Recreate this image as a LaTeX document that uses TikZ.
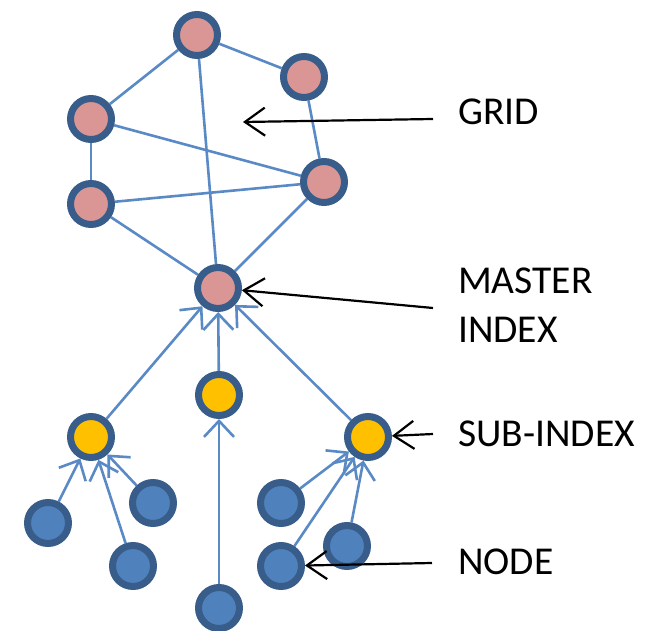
\documentclass[tikz,border=0pt]{standalone}
\usepackage{fontspec}
\setmainfont{Carlito}
\usetikzlibrary{arrows.meta,backgrounds}
\definecolor{ringblue}{HTML}{385D8A}
\definecolor{lineblue}{HTML}{5A8AC6}
\definecolor{pinkfill}{HTML}{D99694}
\definecolor{yellowfill}{HTML}{FFC000}
\definecolor{bluefill}{HTML}{4F81BD}
\begin{document}
\begin{tikzpicture}[x=1pt,y=-1pt,
  vtx/.style={circle,draw=ringblue,line width=7pt,minimum size=41pt,inner sep=0pt},
  gridv/.style={vtx,fill=pinkfill},
  subv/.style={vtx,fill=yellowfill},
  leafv/.style={vtx,fill=bluefill},
  link/.style={draw=lineblue,line width=2.6pt},
  feed/.style={link,-{Straight Barb[length=16pt,width=30pt]}},
  annot/.style={draw=black,line width=2.2pt,-{Straight Barb[length=20pt,width=28pt]}},
  lbl/.style={anchor=base west,inner sep=0pt,font=\fontsize{39.5}{46}\selectfont}]
\useasboundingbox (0,0) rectangle (648,631);

% grid nodes
\node[gridv] (gtop) at (197,35) {};
\node[gridv] (gtr)  at (304,77) {};
\node[gridv] (glu)  at (91,119) {};
\node[gridv] (gll)  at (91,204) {};
\node[gridv] (gr)   at (324,182) {};
\node[gridv] (master) at (218,288) {};

% sub-index nodes
\node[subv] (sl) at (91,437) {};
\node[subv] (sm) at (219,395) {};
\node[subv] (sr) at (368,437) {};

% leaf nodes
\node[leafv] (l1) at (48,523) {};
\node[leafv] (l2) at (153,503) {};
\node[leafv] (l3) at (133,566) {};
\node[leafv] (l4) at (219,608) {};
\node[leafv] (l5) at (281,503) {};
\node[leafv] (l6) at (281,566) {};
\node[leafv] (l7) at (347,546) {};

\begin{scope}[on background layer]
  \draw[link] (gtop) -- (glu);
  \draw[link] (gtop) -- (gtr);
  \draw[link] (gtop) -- (master);
  \draw[link] (gtr) -- (gr);
  \draw[link] (glu) -- (gr);
  \draw[link] (glu) -- (gll);
  \draw[link] (gll) -- (gr);
  \draw[link] (gll) -- (master);
  \draw[link] (gr) -- (master);
  \draw[feed] (sl) -- (master);
  \draw[feed] (sm) -- (master);
  \draw[feed] (sr) -- (master);
  \draw[feed] (l1) -- (sl);
  \draw[feed] (l2) -- (sl);
  \draw[feed] (l3) -- (sl);
  \draw[feed] (l4) -- (sm);
  \draw[feed] (l5) -- (sr);
  \draw[feed] (l6) -- (sr);
  \draw[feed] (l7) -- (sr);
\end{scope}

% labels
\node[lbl] (lgrid) at (458,125) {GRID};
\node[lbl] (lmaster) at (458,294) {MASTER};
\node[lbl] (lindex) at (458,342) {INDEX};
\node[lbl] (lsub) at (458,446) {SUB-INDEX};
\node[lbl] (lnode) at (458,574) {NODE};

\coordinate (gridfrom) at (433,119);
\coordinate (gridto) at (243,122);
\coordinate (masterfrom) at (433,308);
\coordinate (subfrom) at (433,434);
\coordinate (nodefrom) at (432,563);

\draw[annot] (gridfrom) -- (gridto);
\draw[annot] (masterfrom) -- (master);
\draw[annot] (subfrom) -- (sr);
\draw[annot] (nodefrom) -- (l6);
\end{tikzpicture}
\end{document}
